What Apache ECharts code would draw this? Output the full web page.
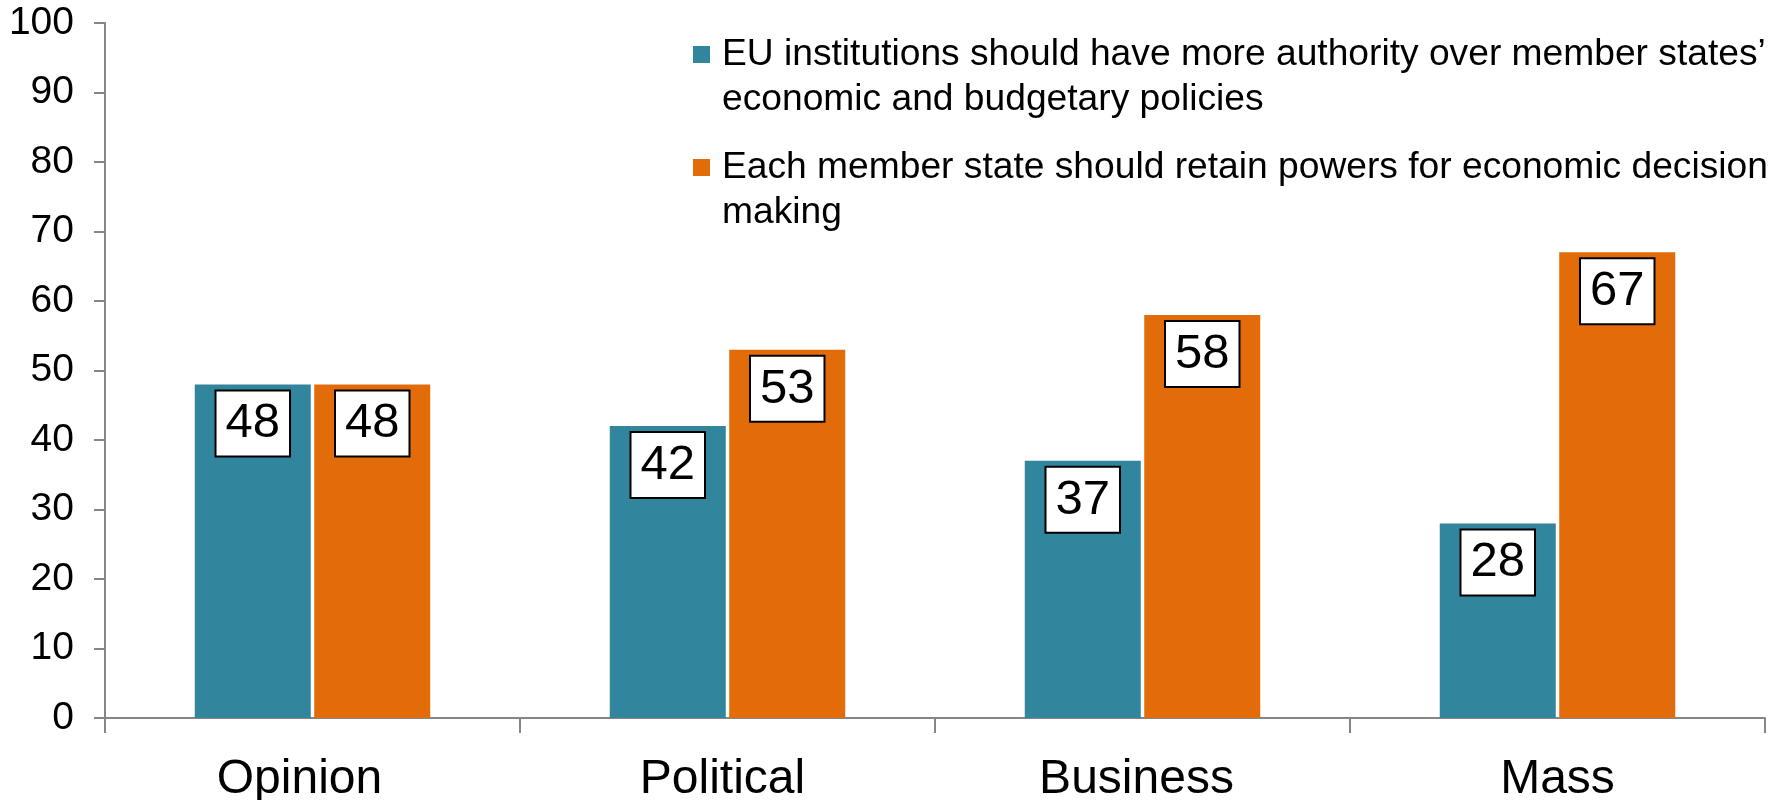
<!DOCTYPE html>
<html>
<head>
<meta charset="utf-8">
<script src="https://cdn.jsdelivr.net/npm/echarts@6/dist/echarts.min.js"></script>
<style>
  html, body { margin: 0; padding: 0; background: #fff; }
  #chart { width: 1787px; height: 800px; }
</style>
</head>
<body>
<div id="chart"></div>
<script>
// Survey groups along the x axis
const categories = ['Opinion', 'Political', 'Business', 'Mass'];

// Share of respondents (%) per position
const seriesNames = [
  'EU institutions should have more authority over member states’ economic and budgetary policies',
  'Each member state should retain powers for economic decision making'
];
const euAuthority = [48, 42, 37, 28];
const nationalPowers = [48, 53, 58, 67];

// Legend text broken over two lines
const legendLines = {
  [seriesNames[0]]: ['EU institutions should have more authority over member states’', 'economic and budgetary policies'],
  [seriesNames[1]]: ['Each member state should retain powers for economic decision', 'making']
};

const colors = ['#31859C', '#E36C0A'];
const font = 'Arial, "Liberation Sans", Helvetica, sans-serif';
const legendLH = 45;
const legendFS = 37.2;

// Small leftward nudge of each category label (right padding, px)
const labelNudge = [26, 10, 12, 0];

const chart = echarts.init(document.getElementById('chart'), null, { renderer: 'canvas' });

const labelStyle = {
  show: true,
  position: 'insideTop',
  distance: 7,
  color: '#000',
  fontFamily: font,
  fontSize: 49,
  lineHeight: 49,
  backgroundColor: '#fff',
  borderColor: '#000',
  borderWidth: 2,
  padding: [8, 9, 7, 9]
};

chart.setOption({
  animation: false,
  textStyle: { fontFamily: font },
  grid: { left: 105, right: 22, top: 23, bottom: 82, containLabel: false, outerBoundsMode: 'none' },
  legend: {
    orient: 'vertical',
    left: 688,
    top: 32,
    padding: 0,
    itemGap: 23,
    itemWidth: 0,
    itemHeight: 0,
    selectedMode: false,
    data: seriesNames,
    formatter: function (name) {
      const lines = legendLines[name];
      const sq = name === seriesNames[0] ? 'sqA' : 'sqB';
      return '{' + sq + '|}{gap|}{t|' + lines[0] + '}\n{ind|}{t|' + lines[1] + '}';
    },
    textStyle: {
      fontFamily: font,
      fontSize: legendFS,
      lineHeight: legendLH,
      color: '#000',
      rich: {
        sqA: { width: 17, height: 17, lineHeight: legendLH, backgroundColor: colors[0] },
        sqB: { width: 17, height: 17, lineHeight: legendLH, backgroundColor: colors[1] },
        gap: { width: 12, lineHeight: legendLH },
        ind: { width: 29, lineHeight: legendLH },
        t: { fontFamily: font, fontSize: legendFS, lineHeight: legendLH, color: '#000' }
      }
    }
  },
  xAxis: {
    type: 'category',
    data: categories.map((c, i) => ({ value: c, textStyle: { padding: [0, labelNudge[i], 0, 0] } })),
    boundaryGap: true,
    axisLine: { show: true, lineStyle: { color: '#868686', width: 2 } },
    axisTick: { show: true, inside: false, length: 15, alignWithLabel: false, lineStyle: { color: '#868686', width: 2 } },
    axisLabel: { color: '#000', fontFamily: font, fontSize: 48, lineHeight: 48, margin: 38 },
    splitLine: { show: false }
  },
  yAxis: {
    type: 'value',
    min: 0,
    max: 100,
    interval: 10,
    axisLine: { show: true, lineStyle: { color: '#868686', width: 2 } },
    axisTick: { show: true, inside: false, length: 11, lineStyle: { color: '#868686', width: 2 } },
    axisLabel: { color: '#000', fontFamily: font, fontSize: 39, margin: 31 },
    splitLine: { show: false }
  },
  series: [
    {
      name: seriesNames[0],
      type: 'bar',
      data: euAuthority,
      barWidth: 116,
      barGap: '3%',
      itemStyle: { color: colors[0] },
      label: labelStyle
    },
    {
      name: seriesNames[1],
      type: 'bar',
      data: nationalPowers,
      barWidth: 116,
      barGap: '3%',
      itemStyle: { color: colors[1] },
      label: labelStyle
    }
  ]
});
</script>
</body>
</html>
